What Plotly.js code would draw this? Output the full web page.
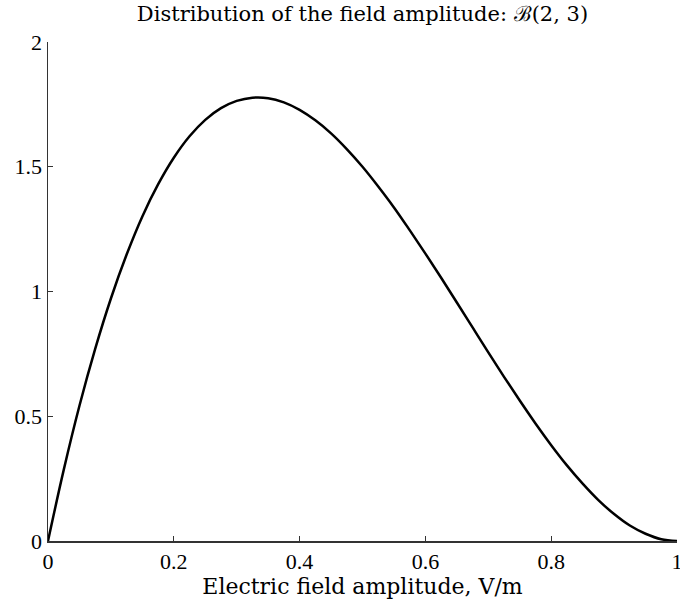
<!DOCTYPE html>
<html>
<head>
<meta charset="utf-8">
<script src="https://cdn.plot.ly/plotly-3.0.1.min.js"></script>
<style>html,body{margin:0;padding:0;background:#fff;}#chart{width:680px;height:603px;}</style>
</head>
<body>
<div id="chart"></div>
<script>
// Electric field amplitude (V/m)
const amplitude = [0, 0.025, 0.05, 0.075, 0.1, 0.125, 0.15, 0.175, 0.2, 0.225, 0.25, 0.275, 0.3, 0.325, 0.35, 0.375, 0.4, 0.425, 0.45, 0.475, 0.5, 0.525, 0.55, 0.575, 0.6, 0.625, 0.65, 0.675, 0.7, 0.725, 0.75, 0.775, 0.8, 0.825, 0.85, 0.875, 0.9, 0.925, 0.95, 0.975, 1];
// Probability density
const density = [0, 0.285, 0.542, 0.770, 0.972, 1.148, 1.301, 1.429, 1.536, 1.622, 1.688, 1.735, 1.764, 1.777, 1.775, 1.758, 1.728, 1.686, 1.634, 1.571, 1.500, 1.421, 1.337, 1.246, 1.152, 1.055, 0.956, 0.856, 0.756, 0.658, 0.563, 0.471, 0.384, 0.303, 0.230, 0.164, 0.108, 0.062, 0.029, 0.007, 0];
const xTicks = [0, 0.2, 0.4, 0.6, 0.8, 1];
const xTickText = ['0', '0.2', '0.4', '0.6', '0.8', '1'];
const yTicks = [0, 0.5, 1, 1.5, 2];
const yTickText = ['0', '0.5', '1', '1.5', '2'];

const font = 'Liberation Serif, Times New Roman, serif';
const tfont = 'DejaVu Serif, serif';
const trace = {
  x: amplitude, y: density, type: 'scatter', mode: 'lines',
  line: {color: '#000', width: 2.5, shape: 'spline'},
  hoverinfo: 'skip', cliponaxis: false
};
const layout = {
  width: 680, height: 603,
  margin: {l: 48, r: 3, t: 42, b: 62},
  paper_bgcolor: '#fff', plot_bgcolor: '#fff',
  font: {family: font, size: 22, color: '#000'},
  showlegend: false,
  title: {text: 'Distribution of the field amplitude: ℬ(2, 3)', xref: 'paper', x: 0.5, xanchor: 'center', y: 0.99, yanchor: 'top', font: {family: tfont, size: 21, color: '#000'}},
  xaxis: {
    range: [0, 1], tickvals: xTicks, ticktext: xTickText,
    ticks: 'inside', ticklen: 5, tickcolor: '#333', tickwidth: 1,
    showline: true, linecolor: '#333', linewidth: 1.5, mirror: false,
    showgrid: false, zeroline: false, ticklabeloverflow: 'allow',
    tickfont: {family: font, size: 22, color: '#000'},
    title: {text: 'Electric field amplitude, V/m', font: {family: tfont, size: 22, color: '#000'}, standoff: 0}
  },
  yaxis: {
    range: [0, 2], tickvals: yTicks, ticktext: yTickText,
    ticks: 'inside', ticklen: 5, tickcolor: '#333', tickwidth: 1,
    showline: true, linecolor: '#333', linewidth: 1.5, mirror: false,
    showgrid: false, zeroline: false, ticklabeloverflow: 'allow',
    tickfont: {family: font, size: 22, color: '#000'}
  }
};
Plotly.newPlot('chart', [trace], layout, {staticPlot: true, displayModeBar: false});
</script>
</body>
</html>
